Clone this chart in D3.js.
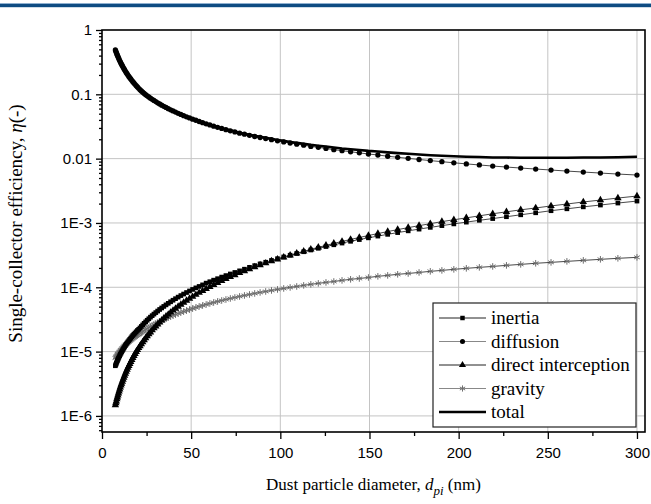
<!DOCTYPE html>
<html><head><meta charset="utf-8">
<script src="https://cdn.jsdelivr.net/npm/d3@7"></script>
<style>body{margin:0;background:#fff}svg{display:block}</style>
</head><body><svg id="c" width="651" height="504"></svg>
<script>
const diameters = [7.5,7.77,8.04,8.33,8.62,8.92,9.24,9.57,9.91,10.26,10.62,11.0,11.39,11.79,12.21,12.64,13.09,13.55,14.03,14.53,15.04,15.57,16.12,16.69,17.28,17.9,18.53,19.19,19.87,20.57,21.3,22.05,22.83,23.64,24.48,25.34,26.24,27.17,28.13,29.13,30.16,31.22,32.33,33.47,34.66,35.89,37.16,38.47,39.83,41.24,42.7,44.22,45.78,47.4,49.08,50.82,52.62,54.48,56.41,58.4,60.47,62.61,64.83,67.12,69.5,71.96,74.51,77.15,79.88,82.7,85.63,88.66,91.8,95.05,98.42,101.9,105.5,109.2,113.1,117.1,121.3,125.6,130,134.6,139.4,144.3,149.4,154.7,160.2,165.8,171.7,177.8,184.1,190.6,197.3,204.3,211.6,219.1,226.8,234.8,243.2,251.8,260.7,269.9,279.5,289.3,300];

const inertia = [6.03e-6,6.30e-6,6.59e-6,6.90e-6,7.21e-6,7.55e-6,7.89e-6,8.26e-6,8.64e-6,9.04e-6,9.45e-6,9.89e-6,1.03e-5,1.08e-5,1.13e-5,1.18e-5,1.24e-5,1.30e-5,1.36e-5,1.42e-5,1.48e-5,1.55e-5,1.62e-5,1.70e-5,1.78e-5,1.86e-5,1.94e-5,2.03e-5,2.13e-5,2.22e-5,2.33e-5,2.46e-5,2.60e-5,2.75e-5,2.90e-5,3.07e-5,3.24e-5,3.43e-5,3.62e-5,3.83e-5,4.04e-5,4.27e-5,4.52e-5,4.77e-5,5.04e-5,5.33e-5,5.63e-5,5.95e-5,6.29e-5,6.65e-5,7.03e-5,7.43e-5,7.85e-5,8.29e-5,8.76e-5,9.26e-5,9.79e-5,1.03e-4,1.09e-4,1.16e-4,1.22e-4,1.29e-4,1.36e-4,1.44e-4,1.52e-4,1.61e-4,1.70e-4,1.80e-4,1.91e-4,2.04e-4,2.17e-4,2.31e-4,2.45e-4,2.61e-4,2.78e-4,2.96e-4,3.15e-4,3.35e-4,3.57e-4,3.80e-4,4.04e-4,4.30e-4,4.58e-4,4.87e-4,5.19e-4,5.52e-4,5.87e-4,6.25e-4,6.65e-4,7.08e-4,7.54e-4,8.02e-4,8.54e-4,9.09e-4,9.67e-4,1.03e-3,1.10e-3,1.17e-3,1.25e-3,1.34e-3,1.44e-3,1.55e-3,1.66e-3,1.78e-3,1.90e-3,2.04e-3,2.19e-3];

const diffusion = [0.490,0.467,0.446,0.425,0.405,0.387,0.369,0.352,0.335,0.320,0.305,0.291,0.278,0.265,0.253,0.241,0.230,0.219,0.209,0.199,0.190,0.181,0.173,0.165,0.157,0.150,0.143,0.136,0.130,0.124,0.118,0.113,0.108,0.103,0.0989,0.0948,0.0910,0.0872,0.0837,0.0803,0.0770,0.0738,0.0708,0.0679,0.0651,0.0625,0.0599,0.0575,0.0551,0.0529,0.0507,0.0486,0.0466,0.0447,0.0429,0.0411,0.0395,0.0378,0.0363,0.0348,0.0334,0.0320,0.0307,0.0295,0.0282,0.0271,0.0260,0.0249,0.0240,0.0230,0.0221,0.0213,0.0205,0.0197,0.0189,0.0182,0.0175,0.0168,0.0162,0.0155,0.0150,0.0144,0.0138,0.0133,0.0128,0.0123,0.0118,0.0114,0.0109,0.0105,0.0101,0.00970,0.00932,0.00897,0.00862,0.00829,0.00797,0.00767,0.00740,0.00714,0.00689,0.00665,0.00641,0.00619,0.00597,0.00576,0.00556];

const interception = [1.47e-6,1.58e-6,1.69e-6,1.82e-6,1.95e-6,2.09e-6,2.24e-6,2.41e-6,2.59e-6,2.77e-6,2.98e-6,3.19e-6,3.43e-6,3.68e-6,3.95e-6,4.24e-6,4.55e-6,4.88e-6,5.24e-6,5.62e-6,6.03e-6,6.47e-6,6.95e-6,7.46e-6,8.00e-6,8.59e-6,9.21e-6,9.89e-6,1.06e-5,1.14e-5,1.22e-5,1.31e-5,1.41e-5,1.51e-5,1.62e-5,1.74e-5,1.87e-5,2.00e-5,2.15e-5,2.31e-5,2.48e-5,2.66e-5,2.85e-5,3.06e-5,3.29e-5,3.53e-5,3.78e-5,4.06e-5,4.36e-5,4.68e-5,5.02e-5,5.38e-5,5.78e-5,6.20e-5,6.66e-5,7.14e-5,7.67e-5,8.23e-5,8.83e-5,9.48e-5,1.02e-4,1.09e-4,1.17e-4,1.26e-4,1.35e-4,1.45e-4,1.55e-4,1.67e-4,1.79e-4,1.92e-4,2.06e-4,2.21e-4,2.37e-4,2.55e-4,2.73e-4,2.93e-4,3.15e-4,3.38e-4,3.63e-4,3.89e-4,4.18e-4,4.48e-4,4.81e-4,5.16e-4,5.54e-4,5.94e-4,6.38e-4,6.84e-4,7.35e-4,7.88e-4,8.46e-4,9.08e-4,9.74e-4,1.05e-3,1.12e-3,1.20e-3,1.29e-3,1.39e-3,1.49e-3,1.60e-3,1.71e-3,1.84e-3,1.97e-3,2.12e-3,2.27e-3,2.44e-3,2.62e-3];

const gravity = [7.94e-6,8.18e-6,8.42e-6,8.67e-6,8.93e-6,9.19e-6,9.46e-6,9.74e-6,1.00e-5,1.03e-5,1.06e-5,1.09e-5,1.13e-5,1.16e-5,1.20e-5,1.23e-5,1.27e-5,1.30e-5,1.34e-5,1.38e-5,1.42e-5,1.47e-5,1.51e-5,1.55e-5,1.60e-5,1.65e-5,1.70e-5,1.75e-5,1.80e-5,1.85e-5,1.91e-5,1.97e-5,2.05e-5,2.12e-5,2.20e-5,2.28e-5,2.36e-5,2.45e-5,2.54e-5,2.63e-5,2.73e-5,2.83e-5,2.93e-5,3.04e-5,3.15e-5,3.27e-5,3.39e-5,3.51e-5,3.64e-5,3.77e-5,3.91e-5,4.05e-5,4.20e-5,4.35e-5,4.51e-5,4.68e-5,4.85e-5,5.03e-5,5.21e-5,5.40e-5,5.60e-5,5.80e-5,6.02e-5,6.23e-5,6.46e-5,6.70e-5,6.94e-5,7.20e-5,7.46e-5,7.73e-5,8.02e-5,8.31e-5,8.61e-5,8.93e-5,9.26e-5,9.59e-5,9.94e-5,1.03e-4,1.07e-4,1.11e-4,1.15e-4,1.19e-4,1.23e-4,1.28e-4,1.33e-4,1.37e-4,1.42e-4,1.48e-4,1.53e-4,1.59e-4,1.64e-4,1.70e-4,1.77e-4,1.83e-4,1.90e-4,1.97e-4,2.04e-4,2.11e-4,2.19e-4,2.27e-4,2.36e-4,2.44e-4,2.53e-4,2.62e-4,2.72e-4,2.82e-4,2.92e-4];

const total = [0.490,0.467,0.446,0.425,0.405,0.387,0.369,0.352,0.335,0.320,0.305,0.291,0.278,0.265,0.253,0.241,0.230,0.219,0.209,0.199,0.190,0.181,0.173,0.165,0.157,0.150,0.143,0.136,0.130,0.124,0.118,0.113,0.108,0.103,0.0990,0.0949,0.0911,0.0873,0.0838,0.0804,0.0771,0.0739,0.0709,0.0680,0.0652,0.0626,0.0600,0.0576,0.0552,0.0531,0.0509,0.0488,0.0468,0.0449,0.0431,0.0413,0.0397,0.0380,0.0365,0.0351,0.0337,0.0323,0.0310,0.0298,0.0286,0.0275,0.0264,0.0253,0.0244,0.0235,0.0226,0.0218,0.0211,0.0203,0.0195,0.0189,0.0182,0.0176,0.0170,0.0164,0.0159,0.0154,0.0149,0.0144,0.0140,0.0136,0.0132,0.0129,0.0125,0.0122,0.0119,0.0116,0.0113,0.0111,0.0109,0.0107,0.0106,0.0104,0.0104,0.0103,0.0103,0.0103,0.0103,0.0104,0.0104,0.0105,0.0107];

const xTicks = [0,50,100,150,200,250,300];
const xMinorTicks = [25,75,125,175,225,275];
const yTicks = [1,0.1,0.01,1e-3,1e-4,1e-5,1e-6];
const yTickLabels = ["1","0.1","0.01","1E-3","1E-4","1E-5","1E-6"];
const legendLabels = ["inertia","diffusion","direct interception","gravity","total"];

const svg = d3.select("#c");
const W = 651, H = 504;
const L = 102, R = 645, T = 30, B = 432;
const x = d3.scaleLinear().domain([0, 304.5]).range([L, R]);
const y = d3.scaleLog().domain([Math.pow(10, -6.25), 1]).range([B, T]);
const sans = "'Liberation Sans', Arial, sans-serif";
const serif = "'Liberation Serif', 'Times New Roman', serif";

svg.append("rect").attr("width", W).attr("height", H).attr("fill", "#fff");
// top banner
svg.append("rect").attr("x", 0).attr("y", 3).attr("width", W).attr("height", 1.2).attr("fill", "#8fb0cf");
svg.append("rect").attr("x", 0).attr("y", 4).attr("width", W).attr("height", 3.2).attr("fill", "#0e4c82");

// grid
const grid = svg.append("g").attr("stroke", "#c4c4c4").attr("stroke-width", 1);
xTicks.filter(d => d > 0).forEach(d => grid.append("line")
  .attr("x1", x(d)).attr("x2", x(d)).attr("y1", T).attr("y2", B));
yTicks.filter(d => d < 1).forEach(d => grid.append("line")
  .attr("x1", L).attr("x2", R).attr("y1", y(d)).attr("y2", y(d)));

// minor y tick positions (2..9 of each decade)
const yMinor = [];
for (let e = -7; e < 0; e++) for (let k = 2; k <= 9; k++) {
  const v = k * Math.pow(10, e);
  if (v >= y.domain()[0] && v < 1) yMinor.push(v);
}

// axes
svg.append("g").attr("transform", `translate(0,${B})`)
  .call(d3.axisBottom(x).tickValues(xTicks).tickSize(7).tickPadding(8).tickFormat(d3.format("d")));
svg.append("g").attr("transform", `translate(0,${B})`)
  .call(d3.axisBottom(x).tickValues(xMinorTicks).tickSize(4).tickFormat(""));
svg.append("g").attr("transform", `translate(${L},0)`)
  .call(d3.axisLeft(y).tickValues(yTicks).tickSize(6).tickPadding(4).tickFormat((d, i) => yTickLabels[i]));
svg.append("g").attr("transform", `translate(${L},0)`)
  .call(d3.axisLeft(y).tickValues(yMinor).tickSize(3).tickFormat(""));
svg.selectAll(".domain").remove();
svg.selectAll(".tick line").attr("stroke", "#000").attr("stroke-width", 1.3);
svg.selectAll(".tick text").attr("font-family", sans).attr("font-size", 15).attr("fill", "#000");

// series
const line = d3.line().x((d, i) => x(diameters[i])).y(d => y(d));
const plot = svg.append("g");
const series = [
  {name: "inertia", data: inertia, sym: d3.symbolSquare, size: 22, fill: "#000", stroke: "none"},
  {name: "diffusion", data: diffusion, sym: d3.symbolCircle, size: 22, fill: "#000", stroke: "none"},
  {name: "interception", data: interception, sym: d3.symbolTriangle, size: 24, fill: "#000", stroke: "none"},
  {name: "gravity", data: gravity, sym: d3.symbolAsterisk, size: 30, fill: "none", stroke: "#6e6e6e"}
];
[series[3], series[0], series[2], series[1]].forEach(s => {
  plot.append("path").attr("d", line(s.data)).attr("fill", "none")
    .attr("stroke", "#333").attr("stroke-width", 0.9);
  plot.append("g").selectAll("path").data(s.data).join("path")
    .attr("transform", (d, i) => `translate(${x(diameters[i])},${y(d)})`)
    .attr("d", d3.symbol(s.sym, s.size))
    .attr("fill", s.fill).attr("stroke", s.stroke).attr("stroke-width", 1);
});
plot.append("path").attr("d", line(total)).attr("fill", "none")
  .attr("stroke", "#000").attr("stroke-width", 2.6);

// frame
svg.append("rect").attr("x", L).attr("y", T).attr("width", R - L).attr("height", B - T)
  .attr("fill", "none").attr("stroke", "#000").attr("stroke-width", 1.6);

// legend
const lg = svg.append("g");
lg.append("rect").attr("x", 433).attr("y", 303).attr("width", 203).attr("height", 124)
  .attr("fill", "#fff").attr("stroke", "#222").attr("stroke-width", 1.2);
const rows = [318, 341.5, 365, 388.5, 412];
const lsty = [
  {sym: d3.symbolSquare, size: 20, fill: "#000", stroke: "none", lc: "#222", lw: 1},
  {sym: d3.symbolCircle, size: 20, fill: "#000", stroke: "none", lc: "#888", lw: 1.2},
  {sym: d3.symbolTriangle, size: 22, fill: "#000", stroke: "none", lc: "#222", lw: 1},
  {sym: d3.symbolAsterisk, size: 26, fill: "none", stroke: "#6e6e6e", lc: "#888", lw: 1.2},
  {sym: null, lc: "#000", lw: 2.6}
];
legendLabels.forEach((t, i) => {
  const s = lsty[i], yy = rows[i];
  lg.append("line").attr("x1", 439).attr("x2", 486).attr("y1", yy).attr("y2", yy)
    .attr("stroke", s.lc).attr("stroke-width", s.lw);
  if (s.sym) lg.append("path").attr("transform", `translate(462.5,${yy})`)
    .attr("d", d3.symbol(s.sym, s.size)).attr("fill", s.fill).attr("stroke", s.stroke);
  lg.append("text").attr("x", 491).attr("y", yy).attr("dy", "0.33em")
    .attr("font-family", serif).attr("font-size", 19).attr("fill", "#000").text(t);
});

// axis titles
const yt = svg.append("text").attr("transform", "translate(22,223.5) rotate(-90)")
  .attr("text-anchor", "middle").attr("font-family", serif).attr("font-size", 19).attr("fill", "#000");
yt.append("tspan").text("Single-collector efficiency, ");
yt.append("tspan").attr("font-style", "italic").text("η");
yt.append("tspan").text("(-)");

const xt = svg.append("text").attr("x", (L + R) / 2).attr("y", 490)
  .attr("text-anchor", "middle").attr("font-family", serif).attr("font-size", 17).attr("fill", "#000");
xt.append("tspan").text("Dust particle diameter, ");
xt.append("tspan").attr("font-style", "italic").text("d");
xt.append("tspan").attr("font-style", "italic").attr("font-size", 13).attr("dy", 5).text("pi");
xt.append("tspan").attr("dy", -5).text(" (nm)");
</script>
</body></html>
